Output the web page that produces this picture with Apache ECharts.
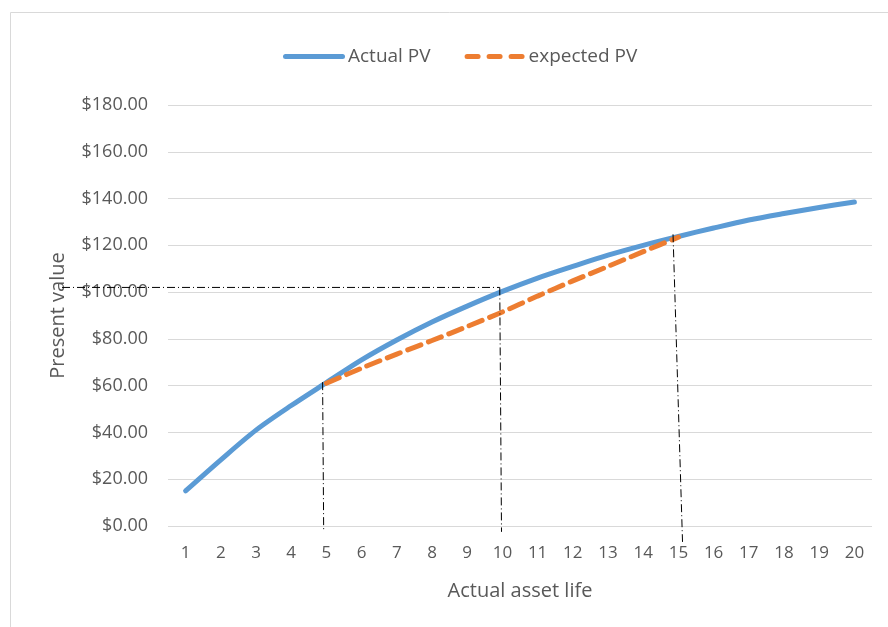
<!DOCTYPE html>
<html>
<head>
<meta charset="utf-8">
<script src="https://cdn.jsdelivr.net/npm/echarts@6/dist/echarts.min.js"></script>
<style>html,body{margin:0;padding:0;background:#fff}#c{width:888px;height:627px}</style>
</head>
<body>
<div id="c"></div>
<script>
// ---- data ----
var years = ['1','2','3','4','5','6','7','8','9','10','11','12','13','14','15','16','17','18','19','20'];
var actualPV = [15, 28.3, 41, 51.5, 61.3, 71, 79.5, 87.2, 94, 100.3, 106, 111, 115.8, 120, 123.8, 127.4, 130.8, 133.6, 136.2, 138.5];
var expectedPV = [null, null, null, null, 61, 67.5, 73.5, 79.3, 85.3, 91.5, 98.3, 104.8, 111, 117.3, 123.5, null, null, null, null, null];
var yTicks = {min: 0, max: 180, interval: 20};
// dash-dot guide lines (data coordinates: [asset life, present value])
var guideH = [[-2.5, 102], [9.93, 102]];
var guide5 = [[4.9, 61.5], [4.93, -1.5]];
var guide10 = [[9.93, 102], [9.98, -2.5]];
var guide15 = [[14.85, 124.7], [15.12, -6.8]];

var chart = echarts.init(document.getElementById('c'), null, {renderer: 'canvas'});
var font = "'Open Sans', 'Liberation Sans', sans-serif";
var guideStyle = {color: '#000', width: 1, type: [8, 3, 1, 3]};
function guide(d) {
  return {type: 'line', xAxisIndex: 1, yAxisIndex: 1, data: d, symbol: 'none', clip: false, silent: true,
          lineStyle: guideStyle, z: 5, animation: false};
}
chart.setOption({
  animation: false,
  graphic: [{type: 'rect', shape: {x: 10.5, y: 12.5, width: 900, height: 700},
             style: {fill: 'none', stroke: '#d9d9d9', lineWidth: 1}, silent: true}],
  legend: {
    data: [
      {name: 'Actual PV', icon: 'path://M2.5 0H59.5A2.5 2.5 0 0 1 59.5 5H2.5A2.5 2.5 0 0 1 2.5 0Z'},
      {name: 'expected PV', icon: 'path://M2.5 0H13.5A2.5 2.5 0 0 1 13.5 5H2.5A2.5 2.5 0 0 1 2.5 0ZM24.5 0H35.5A2.5 2.5 0 0 1 35.5 5H24.5A2.5 2.5 0 0 1 24.5 0ZM46.5 0H57.5A2.5 2.5 0 0 1 57.5 5H46.5A2.5 2.5 0 0 1 46.5 0Z'}
    ],
    top: 42, left: 278,
    itemWidth: 62, itemHeight: 5, itemGap: 34,
    textStyle: {fontFamily: font, fontSize: 19, color: '#595959', padding: [0, 0, 0, -2]}
  },
  grid: [{left: 168, right: 16, top: 105, bottom: 101},
         {left: 62, right: 16, top: 105, bottom: 101, show: false}],
  xAxis: [{
    type: 'category', data: years, boundaryGap: true, gridIndex: 0,
    axisLine: {show: false}, axisTick: {show: false},
    axisLabel: {fontFamily: font, fontSize: 17, color: '#595959', margin: 19},
    name: 'Actual asset life', nameLocation: 'middle', nameGap: 55,
    nameTextStyle: {fontFamily: font, fontSize: 20, color: '#595959'}
  }, {
    type: 'value', min: -2.5, max: 20.5, show: false, gridIndex: 1
  }],
  yAxis: [{
    type: 'value', min: yTicks.min, max: yTicks.max, interval: yTicks.interval, gridIndex: 0,
    axisLine: {show: false}, axisTick: {show: false},
    splitLine: {lineStyle: {color: '#d9d9d9', width: 1}},
    axisLabel: {fontFamily: font, fontSize: 18, color: '#595959', margin: 20,
                formatter: function (v) { return '$' + v.toFixed(2); }},
    name: 'Present value', nameLocation: 'middle', nameGap: 100, nameRotate: 90,
    nameTextStyle: {fontFamily: font, fontSize: 20, color: '#595959'}
  }, {
    type: 'value', min: yTicks.min, max: yTicks.max, show: false, gridIndex: 1
  }],
  series: [
    {name: 'Actual PV', type: 'line', data: actualPV, symbol: 'none', smooth: 0.3,
     lineStyle: {color: '#5B9BD5', width: 5, cap: 'round'}, itemStyle: {color: '#5B9BD5'}, z: 3},
    {name: 'expected PV', type: 'line', data: expectedPV, symbol: 'none', smooth: 0.3,
     lineStyle: {color: '#ED7D31', width: 5, type: [14, 8], cap: 'round'}, itemStyle: {color: '#ED7D31'}, z: 4},
    guide(guideH), guide(guide5), guide(guide10), guide(guide15)
  ]
});
</script>
</body>
</html>
